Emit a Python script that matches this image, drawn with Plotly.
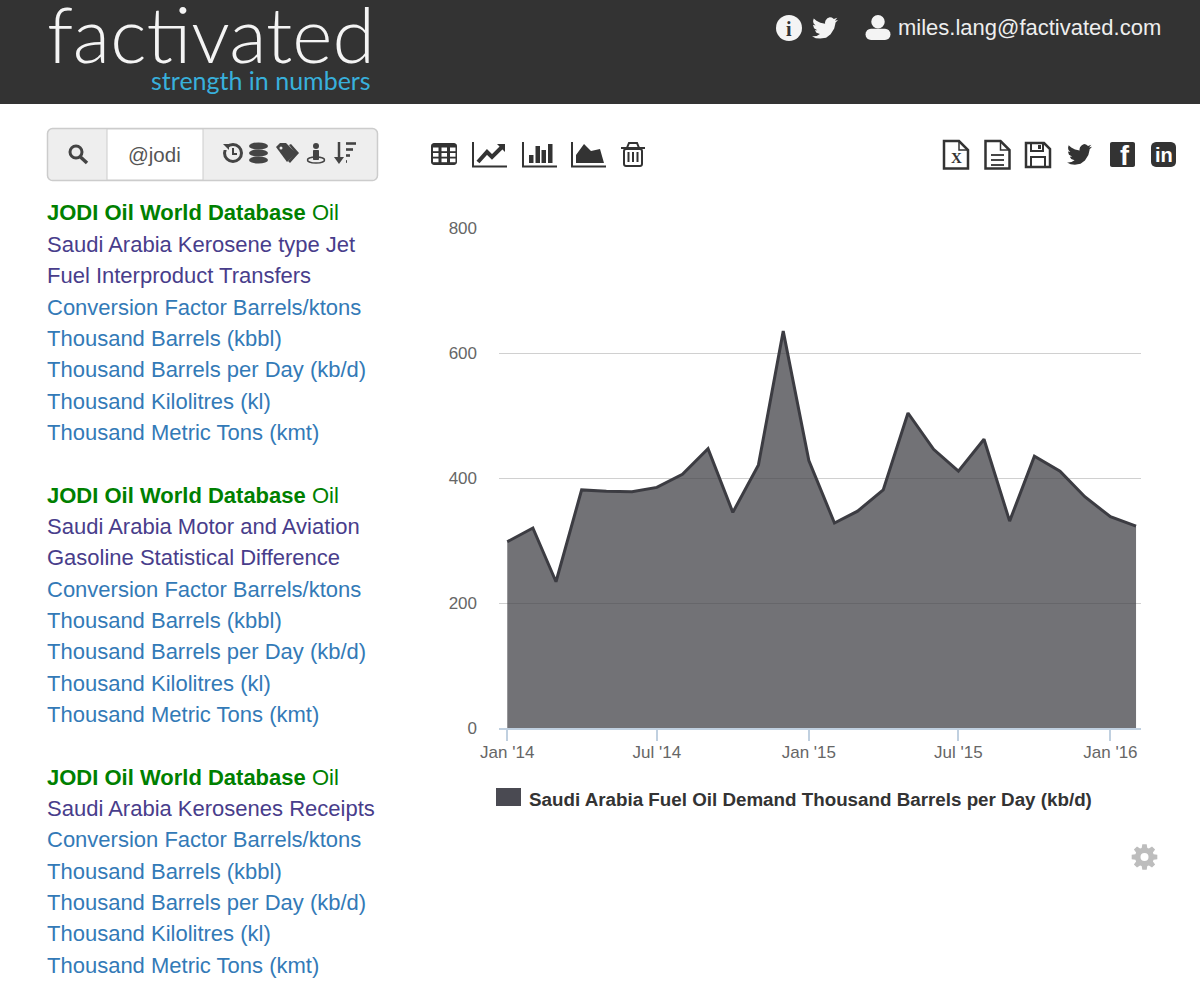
import math
import plotly.graph_objects as go

W = 1200
H = 1002

# chart data
months = ["2014-01-01", "2014-02-01", "2014-03-01", "2014-04-01", "2014-05-01", "2014-06-01",
          "2014-07-01", "2014-08-01", "2014-09-01", "2014-10-01", "2014-11-01", "2014-12-01",
          "2015-01-01", "2015-02-01", "2015-03-01", "2015-04-01", "2015-05-01", "2015-06-01",
          "2015-07-01", "2015-08-01", "2015-09-01", "2015-10-01", "2015-11-01", "2015-12-01",
          "2016-01-01", "2016-02-01"]
demand = [298, 320, 234, 381, 379, 378, 385, 406, 447, 345, 421, 635,
          428, 328, 347, 381, 504, 446, 411, 462, 331, 435, 411, 370,
          338, 323]
x_ticks = ["2014-01-01", "2014-07-01", "2015-01-01", "2015-07-01", "2016-01-01"]
y_ticks = [0, 200, 400, 600, 800]
series_name = "Saudi Arabia Fuel Oil Demand Thousand Barrels per Day (kb/d)"

# sidebar texts
db_name = "JODI Oil World Database"
db_kind = "Oil"
block_titles = [
    ["Saudi Arabia Kerosene type Jet", "Fuel Interproduct Transfers"],
    ["Saudi Arabia Motor and Aviation", "Gasoline Statistical Difference"],
    ["Saudi Arabia Kerosenes Receipts"],
]
units = ["Conversion Factor Barrels/ktons", "Thousand Barrels (kbbl)", "Thousand Barrels per Day (kb/d)",
         "Thousand Kilolitres (kl)", "Thousand Metric Tons (kmt)"]
block_tops = [213, 495, 777]

DARK = "#333333"
SANS = "Liberation Sans"

bird = [(24, 4.6), (21.1, 5.3), (23.3, 2.6), (20.2, 3.8), (18.3, 2.4), (16.4, 2), (14.2, 3), (12.5, 5),
        (12, 7), (12.1, 8.1), (7.7, 7.2), (4.1, 5.2), (1.6, 3.2), (1, 5.6), (1.4, 7.7), (3.2, 9.7),
        (0.9, 9.1), (1.9, 12.3), (4.9, 14), (2.7, 14.1), (4.1, 16.4), (7.3, 17.6), (4.3, 19.3),
        (1.2, 19.7), (0, 19.6), (3.5, 21.4), (7.6, 21.8), (13, 20.9), (17.2, 17.8), (20.5, 12.5),
        (21.6, 7.8), (21.6, 7.2)]

fig = go.Figure()
fig.add_trace(go.Scatter(x=months, y=demand, mode="lines", name=series_name,
                         line=dict(color="#3c3c42", width=3), fill="tozeroy",
                         fillcolor="rgba(67,67,72,0.75)", hoverinfo="x+y"))

shapes = []
notes = []


def fx(x):
    return x / W


def fy(y):
    return 1 - y / H


def poly(pts, fill=None, line=None, width=0, close=True):
    d = "M" + " L".join(f"{fx(x):.5f},{fy(y):.5f}" for x, y in pts)
    if close:
        d += " Z"
    shapes.append(dict(type="path", path=d, xref="paper", yref="paper",
                       fillcolor=fill if fill else "rgba(0,0,0,0)",
                       line=dict(color=line if line else "rgba(0,0,0,0)", width=width)))


def rect(x0, y0, x1, y1, fill=None, line=None, width=0, r=0):
    if r == 0:
        poly([(x0, y0), (x1, y0), (x1, y1), (x0, y1)], fill, line, width)
        return
    pts = []
    corners = [(x1 - r, y0 + r, -90), (x1 - r, y1 - r, 0), (x0 + r, y1 - r, 90), (x0 + r, y0 + r, 180)]
    for cx, cy, a in corners:
        for k in range(5):
            t = math.radians(a + k * 22.5)
            pts.append((cx + r * math.cos(t), cy + r * math.sin(t)))
    poly(pts, fill, line, width)


def circle(cx, cy, r, fill=None, line=None, width=0, ry=None):
    ry = ry if ry else r
    shapes.append(dict(type="circle", xref="paper", yref="paper", x0=fx(cx - r), x1=fx(cx + r),
                       y0=fy(cy + ry), y1=fy(cy - ry), fillcolor=fill if fill else "rgba(0,0,0,0)",
                       line=dict(color=line if line else "rgba(0,0,0,0)", width=width)))


def text(x, y, s, size=22, color="#333", family=SANS, anchor="left", weight=None):
    font = dict(size=size, color=color, family=family)
    if weight:
        font["weight"] = weight
    notes.append(dict(x=fx(x), y=fy(y), xref="paper", yref="paper", text=s, showarrow=False,
                      xanchor=anchor, yanchor="middle", font=font, borderpad=0, borderwidth=0))


def draw_bird(x0, y0, size, color):
    poly([(x0 + px * size / 24, y0 + py * size / 24) for px, py in bird], fill=color)


def person(cx, top, w, h, color):
    circle(cx, top + h * 0.27, h * 0.27, fill=color)
    rect(cx - w / 2, top + h * 0.55, cx + w / 2, top + h, fill=color, r=w * 0.22)


# header
rect(0, 0, W, 104, fill=DARK)
text(47, 33, "factivated", size=77, color="#f4f4f4", family="Lato", weight=300)
text(371, 80, "strength in numbers", size=25, color="#38b0dc", family="Lato", anchor="right", weight=400)
circle(789, 28, 13, fill="#f4f4f4")
text(789, 29, "<b>i</b>", size=20, color=DARK, family="Liberation Serif", anchor="center")
draw_bird(812, 15, 26, "#f4f4f4")
person(878, 15, 25, 25, "#f4f4f4")
text(898, 28, "miles.lang@factivated.com", size=22, color="#eeeeee")

# search box
rect(47.5, 128.5, 377.5, 180.5, fill="#eeeeee", line="#cccccc", width=1.5, r=5)
rect(107, 129, 203, 180, fill="#ffffff", line="#cccccc", width=1)
circle(76, 152, 6, line="#444444", width=3)
poly([(80.5, 157), (87, 163)], line="#444444", width=3.5, close=False)
text(154, 155, "@jodi", size=20.5, color="#555555", anchor="center")
# history
circle(233, 153, 8.5, line="#444444", width=3)
rect(222, 143, 229, 150, fill="#eeeeee")
poly([(223, 144), (229, 144), (229, 150)], fill="#444444")
poly([(233, 148), (233, 154), (237, 154)], line="#444444", width=2, close=False)
# database
for y in [146, 153, 160]:
    circle(258.5, y, 9.5, fill="#444444", ry=3.6)
# tags
poly([(276, 147), (280, 143), (286, 143), (296, 153), (287, 162)], fill="#444444")
poly([(291, 144), (299, 153), (290, 163), (288, 161), (295, 153), (289, 145)], fill="#444444")
circle(281, 148, 1.5, fill="#eeeeee")
# street view
circle(316, 146, 3, fill="#444444")
rect(313, 150, 319, 160, fill="#444444", r=1)
circle(316, 160, 8.5, line="#444444", width=1.5, ry=3)
# sort
poly([(339, 142), (339, 161)], line="#444444", width=2.5, close=False)
poly([(334, 157), (344, 157), (339, 164)], fill="#444444")
for y, x1 in zip([143.5, 149.5, 155.5, 161.5], [356, 353, 350, 347]):
    rect(346, y - 1.3, x1, y + 1.3, fill="#444444")

# sidebar
for top, titles in zip(block_tops, block_titles):
    text(47, top, f"<b>{db_name}</b> {db_kind}", color="#008000")
    lines = titles + units
    for i, s in enumerate(lines):
        col = "#483d8b" if i < len(titles) else "#337ab7"
        text(47, top + 31.35 * (i + 1), s, color=col)

# chart type toolbar
rect(431, 143, 457, 165, fill=DARK, r=3)
for cx in [433, 441.5, 450]:
    for cy in [147.5, 153, 158.5]:
        rect(cx, cy, cx + 5.5, cy + 3.7, fill="#ffffff")
for ax in [473, 523, 572]:
    poly([(ax, 142), (ax, 166.5), (ax + 34, 166.5)], line=DARK, width=2, close=False)
poly([(478, 162), (487, 152), (492, 157), (502, 147)], line=DARK, width=4, close=False)
poly([(497, 144), (505, 144), (505, 152)], fill=DARK)
for x0, y0 in [(529, 155), (535.5, 146), (541.5, 150), (548, 144)]:
    rect(x0, y0, x0 + 4.5, 163, fill=DARK)
poly([(576, 163), (576, 155), (584, 144), (591, 151), (600, 149), (604, 163)], fill=DARK)
rect(624, 149, 642, 166, line=DARK, width=2, r=2)
poly([(621, 148), (645, 148)], line=DARK, width=2, close=False)
poly([(627, 148), (629, 143), (637, 143), (639, 148)], line=DARK, width=2, close=False)
for x in [628.5, 633, 637.5]:
    poly([(x, 152), (x, 162)], line=DARK, width=2, close=False)

# export toolbar
for x0 in [944, 985.5]:
    poly([(x0, 141), (x0 + 15, 141), (x0 + 24, 150), (x0 + 24, 168.5), (x0, 168.5)], fill="#ffffff", line=DARK, width=2.5)
    poly([(x0 + 15, 141), (x0 + 15, 150), (x0 + 24, 150)], line=DARK, width=1.5, close=False)
text(956, 158, "<b>X</b>", size=15, color=DARK, family="Liberation Serif", anchor="center")
for y in [155, 160, 165]:
    poly([(991, y), (1004, y)], line=DARK, width=1.8, close=False)
poly([(1026, 143), (1044, 143), (1050, 149), (1050, 167), (1026, 167)], line=DARK, width=2.5)
rect(1031, 143, 1043, 151, line=DARK, width=2)
rect(1031, 157, 1045, 167, line=DARK, width=2)
rect(1038, 145, 1041, 149, fill=DARK)
draw_bird(1067, 142, 25, DARK)
rect(1110, 142, 1135, 167, fill=DARK, r=2)
text(1125, 156, "<b>f</b>", size=27, color="#ffffff", anchor="center")
rect(1151, 142, 1176, 167, fill=DARK, r=5)
text(1163.5, 155, "<b>in</b>", size=20, color="#ffffff", anchor="center")

# legend
rect(496, 788, 521, 806, fill="#4a4a52")
text(529, 799, f"<b>{series_name}</b>", size=18.8, color=DARK)

# settings gear
gear = []
for k in range(8):
    a = k * math.pi / 4
    for da, r in [(-0.30, 9.5), (-0.17, 13), (0.17, 13), (0.30, 9.5)]:
        gear.append((1144.5 + r * math.cos(a + da), 857 + r * math.sin(a + da)))
poly(gear, fill="#bdbdbd")
circle(1144.5, 857, 4, fill="#ffffff")

fig.update_layout(
    width=W, height=H, autosize=False,
    margin=dict(l=0, r=0, t=0, b=0),
    paper_bgcolor="#ffffff", plot_bgcolor="#ffffff",
    showlegend=False,
    font=dict(family=SANS, color="#666666", size=17),
    shapes=shapes, annotations=notes,
    xaxis=dict(domain=[499 / W, 1141 / W], range=["2013-12-22", "2016-02-07"], type="date",
               automargin=False, tickmode="array", tickvals=x_ticks, tickformat="%b '%y", ticks="outside",
               ticklen=11, tickwidth=1.5, tickcolor="#c0d0e0", showline=True, linecolor="#c0d0e0",
               linewidth=1.5, showgrid=False, zeroline=False, ticklabelstandoff=-3,
               tickfont=dict(size=17, color="#666666")),
    yaxis=dict(domain=[1 - 728 / H, 1 - 228 / H], range=[0, 800], tickmode="array", tickvals=y_ticks,
               automargin=False, showgrid=True, gridcolor="#d0d0d0", gridwidth=1, zeroline=False, showline=False,
               ticks="", ticklabelstandoff=21, tickfont=dict(size=17, color="#666666")),
)

fig.write_html("out.html", config=dict(displayModeBar=False),
               post_script="document.body.style.margin='0';")
